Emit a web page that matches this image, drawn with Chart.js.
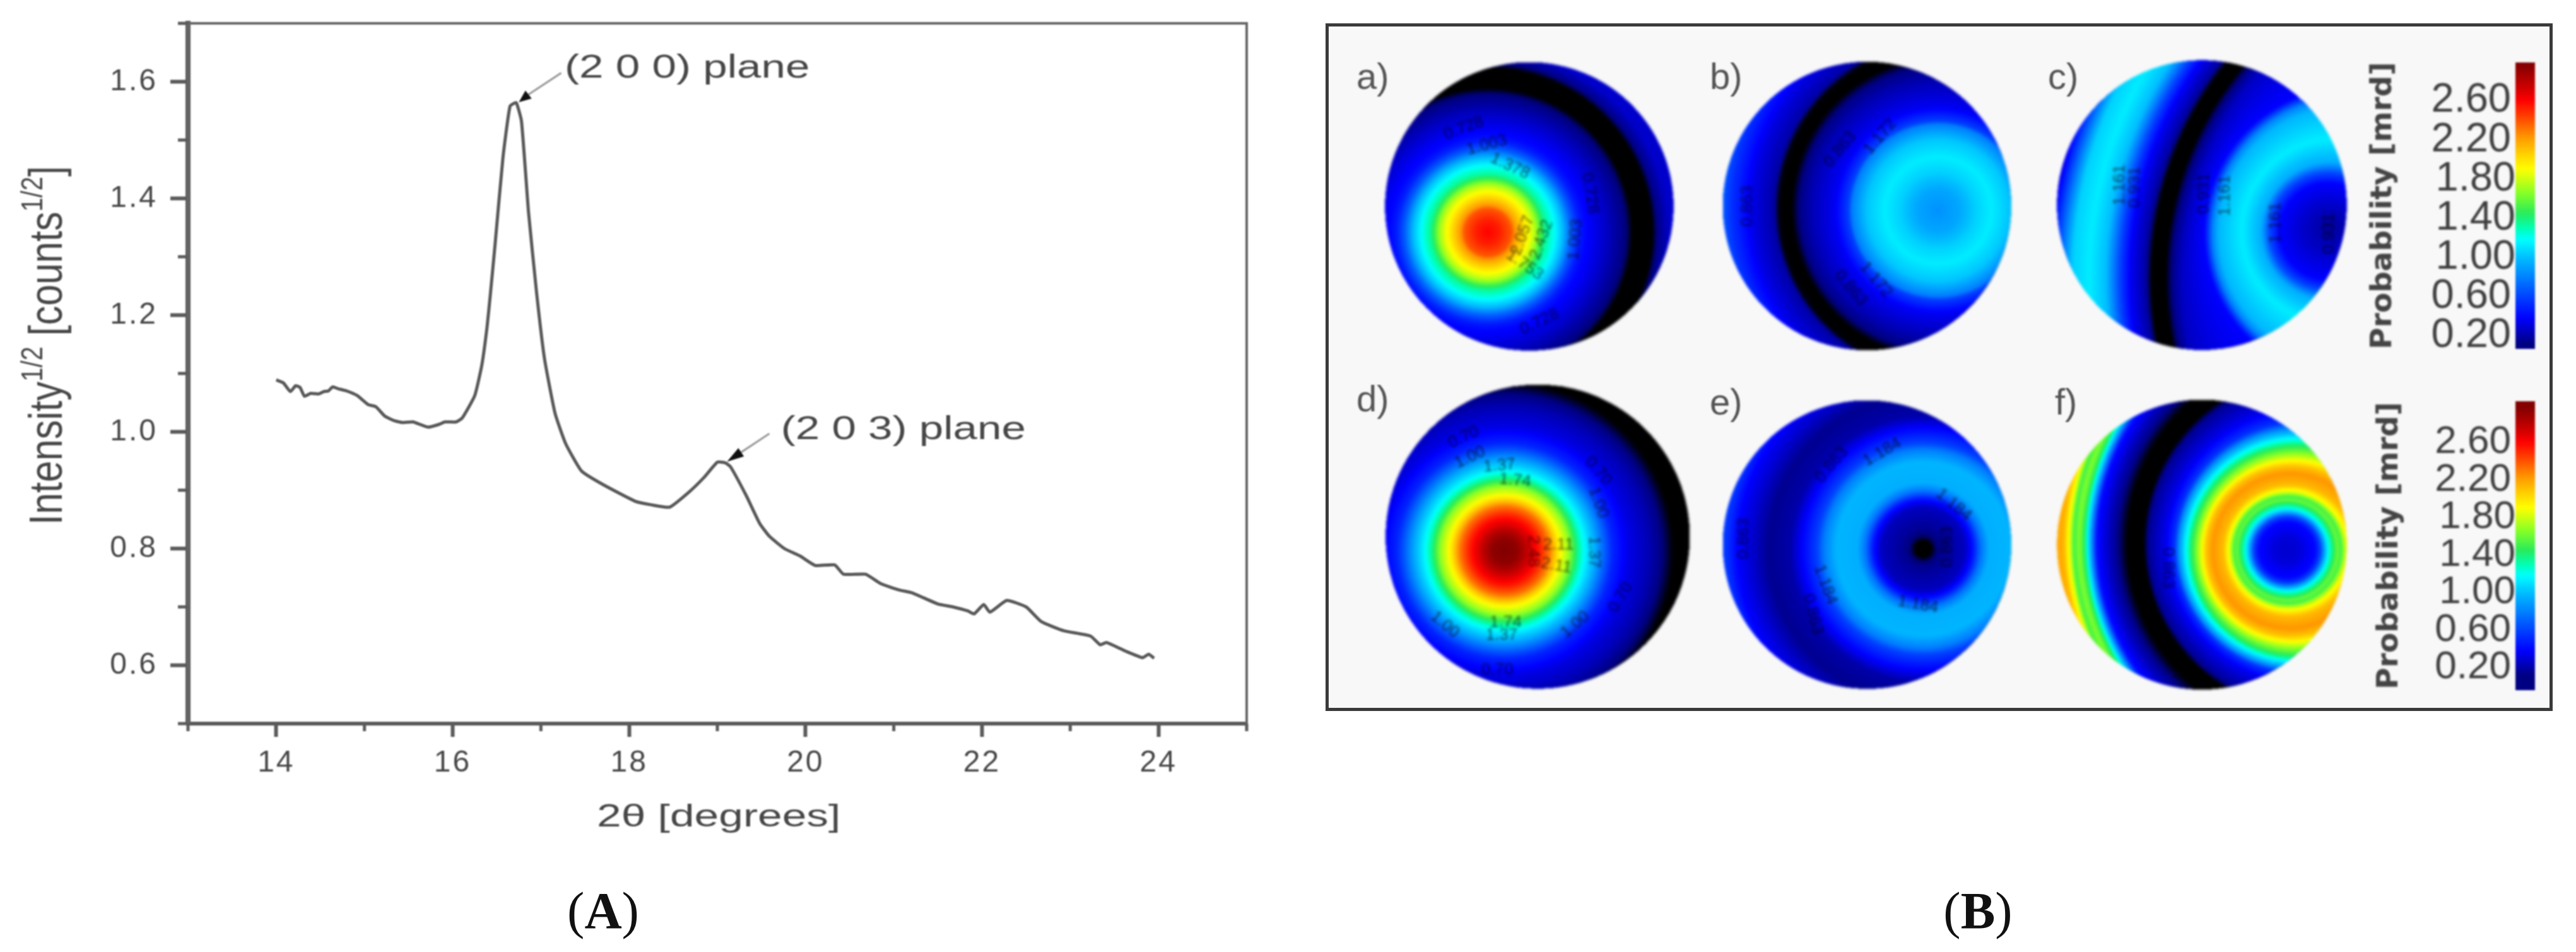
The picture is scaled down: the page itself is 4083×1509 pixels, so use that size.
<!DOCTYPE html>
<html><head><meta charset="utf-8">
<script src="https://cdn.jsdelivr.net/npm/chart.js@4"></script>
<style>
html,body{margin:0;padding:0;background:#fff;width:4083px;height:1509px;overflow:hidden;position:relative}
canvas{position:absolute;display:block}
.t{position:absolute;white-space:nowrap;line-height:1}
#frame{position:absolute;left:2101px;top:37px;width:1935px;height:1080px;border:5px solid #3a3a3a;background:#f8f8f8}
.cap{font-family:"Liberation Serif";font-size:82px;color:#111;filter:blur(.6px)}
.lab{font-family:"Liberation Sans";font-size:58px;color:#555;filter:blur(1.2px)}
</style></head><body>
<div id="frame"></div>
<script>
// ---------- Panel A: diffractogram ----------
const thetaValues=[14.0,14.08,14.16,14.22,14.27,14.32,14.39,14.48,14.54,14.59,14.64,14.70,14.80,14.92,15.04,15.13,15.23,15.34,15.43,15.55,15.72,15.85,15.91,16.04,16.11,16.25,16.33,16.39,16.43,16.48,16.57,16.65,16.72,16.78,16.86,16.95,17.04,17.16,17.28,17.46,17.70,18.07,18.25,18.46,18.68,18.85,19.0,19.09,19.15,19.33,19.48,19.59,19.76,19.94,20.11,20.33,20.43,20.68,20.85,21.06,21.21,21.5,21.67,21.84,21.91,22.02,22.09,22.28,22.5,22.67,22.93,23.23,23.34,23.41,23.63,23.82,23.89,23.95];
const intensityValues=[1.089,1.084,1.069,1.079,1.076,1.061,1.066,1.065,1.069,1.070,1.077,1.074,1.070,1.062,1.047,1.043,1.027,1.019,1.016,1.017,1.008,1.013,1.017,1.017,1.024,1.062,1.114,1.18,1.24,1.32,1.47,1.558,1.564,1.532,1.376,1.24,1.126,1.032,0.98,0.933,0.91,0.881,0.875,0.871,0.897,0.922,0.948,0.947,0.94,0.89,0.843,0.821,0.80,0.787,0.771,0.772,0.756,0.756,0.74,0.729,0.724,0.705,0.70,0.693,0.688,0.704,0.691,0.711,0.70,0.675,0.659,0.65,0.635,0.639,0.624,0.613,0.619,0.612];
const xMajorTicks=[14,16,18,20,22,24];
const xMinorTicks=[13,15,17,19,21,23,25];
const yMajorTicks=[0.6,0.8,1.0,1.2,1.4,1.6];
const yMinorTicks=[0.5,0.7,0.9,1.1,1.3,1.5,1.7];
const annotationLabels=["(2 0 0) plane","(2 0 3) plane"];
const annotationLabelAt=[[17.27,1.623],[19.72,1.003]];
const annotationLineFrom=[[17.23,1.615],[19.59,0.997]];
const annotationHeadTo=[[16.75,1.565],[19.11,0.949]];
const annotationHeadFrom=[[16.86,1.578],[19.27,0.965]];

// ---------- Panel B: colour scale ----------
const jetValues=[0,0.03,0.12,0.38,0.58,0.8,1.0,1.18,1.3,1.45,1.65,1.9,2.08,2.23,2.4,2.6,2.75,2.97];
const jetRed  =[0,0,0,0,0,0,0,0,0,40,130,255,255,255,255,255,200,130];
const jetGreen=[0,0,0,0,60,130,190,255,255,235,255,255,200,150,80,0,0,0];
const jetBlue =[0,0,130,255,255,255,255,255,180,90,40,0,0,0,0,0,0,0];
const barTicks=[0.2,0.6,1.0,1.4,1.8,2.2,2.6];

// Pole figures: contour circles, outermost first: [centre x, centre y, radius, probability]
const poleA=[[535,865,1100,0.3],[535,865,865,0.27],[535,865,805,0.12],[535,865,780,0.02],[535,865,690,0.02],[535,865,665,0.1],[535,865,565,0.26],[535,865,465,0.4],[535,865,435,0.48],[535,865,395,0.7],[535,865,355,1.0],[535,865,315,1.2],[535,865,275,1.35],[535,865,255,1.5],[535,865,225,1.75],[535,865,195,1.9],[535,865,165,2.05],[535,865,130,2.23],[535,865,115,2.38],[535,865,60,2.52],[535,865,0,2.6]];
const poleB=[[1110,750,1150,0.7],[1110,750,1045,0.65],[1110,750,1010,0.55],[1110,750,910,0.33],[1110,750,810,0.2],[1110,750,785,0.04],[1110,750,725,0.02],[1105,752,680,0.12],[1090,755,610,0.22],[1085,760,490,0.36],[1085,760,425,0.6],[1085,760,412,0.78],[1085,760,340,1.02],[1085,760,255,1.13],[1085,760,180,1.05],[1085,760,100,0.92],[1085,760,0,0.85]];
const poleC=[[2146,1080,2300,0.2],[2146,1080,2130,0.3],[2146,1080,2081,0.62],[2146,1080,2012,1.05],[2146,1080,1934,1.13],[2146,1080,1855,1.0],[2146,1080,1787,0.6],[2146,1080,1738,0.36],[2146,1080,1670,0.2],[2146,1080,1642,0.05],[2146,1080,1630,0.02],[2146,1080,1572,0.02],[2146,1080,1555,0.08],[2146,1080,1495,0.25],[1460,870,700,0.38],[1450,870,650,0.8],[1430,870,600,0.98],[1380,860,440,1.13],[1360,860,330,0.95],[1350,860,280,0.62],[1350,860,230,0.38],[1350,850,120,0.27],[1360,840,40,0.2],[1360,840,0,0.19]];
const poleD=[[615,820,1100,0.02],[615,820,810,0.02],[615,820,760,0.1],[615,820,690,0.22],[615,820,590,0.33],[615,820,515,0.5],[615,820,475,0.7],[615,820,425,0.97],[615,820,385,1.15],[615,820,355,1.32],[615,820,330,1.5],[615,820,305,1.7],[615,820,275,1.85],[615,820,245,2.05],[615,820,215,2.3],[615,820,175,2.5],[615,820,130,2.68],[615,820,100,2.8],[615,820,60,2.93],[615,820,0,2.97]];
const poleE=[[1015,750,1000,0.6],[1015,750,935,0.55],[1015,750,885,0.38],[1015,750,815,0.28],[1015,750,735,0.15],[1015,750,635,0.2],[1015,750,565,0.42],[1015,750,505,0.6],[1015,750,475,0.78],[1015,750,415,0.97],[1015,750,315,0.95],[1015,750,275,0.75],[1015,750,235,0.42],[1015,750,200,0.25],[1015,750,100,0.16],[1015,750,60,0.1],[1015,750,38,0.02],[1015,750,0,0.0]];
const poleF=[[1330,720,1290,2.2],[1330,720,1240,2.15],[1330,720,1210,1.85],[1330,720,1190,1.5],[1330,720,1165,1.65],[1330,720,1140,1.45],[1330,720,1115,1.0],[1325,720,1075,0.42],[1320,720,1020,0.27],[1300,720,940,0.1],[1290,720,890,0.02],[1285,720,815,0.02],[1270,725,770,0.17],[1240,735,660,0.35],[1220,745,600,0.55],[1210,750,570,0.85],[1205,755,535,1.15],[1200,760,500,1.45],[1195,760,475,1.6],[1185,760,440,1.85],[1175,760,405,2.1],[1170,760,370,2.23],[1165,758,315,2.12],[1160,756,280,1.85],[1158,755,255,1.5],[1156,755,240,1.6],[1155,755,225,1.45],[1155,755,205,1.28],[1155,755,185,1.0],[1155,755,160,0.6],[1155,755,135,0.4],[1155,755,60,0.3],[1155,755,0,0.28]];
// disc outlines: [centre x, centre y, radius]
const discA=[732,742,685],discB=[748,740,685],discC=[750,735,688],discD=[772,752,722],discE=[748,730,685],discF=[750,730,688];
// contour labels: [text, x, y, rotation in degrees]
const labelsA=[["0.728",420,370,-20],["1.003",530,450,-15],["1.378",640,550,25],["0.728",1020,680,80],["1.003",950,900,-85],["2.057",700,880,-70],["2.432",790,900,-70],["1.753",710,1020,35],["0.728",780,1290,-25]];
const labelsB=[["1.172",810,410,-50],["0.863",620,470,-50],["1.172",790,1090,50],["0.863",670,1130,50],["0.863",180,740,-90]];
const labelsC=[["1.161",360,640,-90],["0.931",430,650,-90],["0.931",760,680,-90],["1.161",860,690,-90],["1.161",1100,820,-90],["0.931",1355,870,-90]];
const labelsD=[["0.70",420,280,-25],["1.00",450,375,-25],["1.37",590,415,-5],["1.74",665,485,5],["0.70",1060,440,50],["1.00",1060,590,70],["1.37",1040,825,90],["2.11",870,790,0],["2.48",750,820,90],["2.11",860,890,10],["1.74",620,1160,0],["1.37",600,1220,0],["1.00",330,1170,40],["1.00",950,1170,-40],["0.70",1165,1040,-60],["0.70",580,1385,0]];
const labelsE=[["1.184",820,290,-30],["0.863",580,350,-50],["1.184",1160,540,40],["1.184",990,1015,10],["1.184",550,920,70],["0.863",490,1060,75],["0.863",160,700,-90],["0.863",1130,740,-90]];
const labelsF=[["0.863",590,840,90]];

// ---------- helpers ----------
const SANS='"Liberation Sans"';
const TXT='#474747';
const AXIS='#5a5a5a';
function jet(v){
  if(v<=jetValues[0])return [jetRed[0],jetGreen[0],jetBlue[0]];
  for(let i=1;i<jetValues.length;i++){
    if(v<=jetValues[i]){
      const t=(v-jetValues[i-1])/(jetValues[i]-jetValues[i-1]);
      return [jetRed,jetGreen,jetBlue].map(c=>Math.round(c[i-1]+(c[i]-c[i-1])*t));
    }
  }
  const n=jetValues.length-1;return [jetRed[n],jetGreen[n],jetBlue[n]];
}
const css=c=>`rgb(${c[0]},${c[1]},${c[2]})`;
function addCanvas(left,top,w,h,blur){
  const c=document.createElement('canvas');c.width=w;c.height=h;
  c.style.left=left+'px';c.style.top=top+'px';c.style.width=w+'px';c.style.height=h+'px';
  c.style.filter=`blur(${blur}px)`;document.body.appendChild(c);return c;
}
function stretched(ctx,str,px,py,font,sx,sy){
  ctx.save();ctx.translate(px,py);ctx.scale(sx,sy);ctx.font=font;ctx.fillStyle=TXT;
  ctx.textAlign='left';ctx.textBaseline='middle';ctx.fillText(str,0,0);ctx.restore();
}

// ---------- Chart A ----------
const panelAPlugin={
  id:'panelA',
  beforeDraw(chart){chart.ctx.letterSpacing='3px';},
  afterDraw(chart){
    const {ctx,scales:{x,y},chartArea:a}=chart;
    ctx.letterSpacing='0px';
    ctx.save();
    ctx.strokeStyle='#666';ctx.lineWidth=4;
    ctx.beginPath();ctx.moveTo(a.left,a.bottom);ctx.lineTo(a.left,a.top);ctx.lineTo(a.right,a.top);ctx.lineTo(a.right,a.bottom);ctx.stroke();
    ctx.strokeStyle=AXIS;ctx.lineWidth=5;ctx.beginPath();
    xMinorTicks.forEach(v=>{const p=x.getPixelForValue(v);ctx.moveTo(p,a.bottom);ctx.lineTo(p,a.bottom+12);});
    yMinorTicks.forEach(v=>{const p=y.getPixelForValue(v);ctx.moveTo(a.left,p);ctx.lineTo(a.left-16,p);});
    ctx.stroke();
    annotationLabels.forEach((s,i)=>{
      const lx=x.getPixelForValue(annotationLabelAt[i][0]),ly=y.getPixelForValue(annotationLabelAt[i][1]);
      stretched(ctx,s,lx,ly,`52px ${SANS}`,1.33,1);
      const fx=x.getPixelForValue(annotationLineFrom[i][0]),fy=y.getPixelForValue(annotationLineFrom[i][1]);
      const hx=x.getPixelForValue(annotationHeadFrom[i][0]),hy=y.getPixelForValue(annotationHeadFrom[i][1]);
      const tx=x.getPixelForValue(annotationHeadTo[i][0]),ty=y.getPixelForValue(annotationHeadTo[i][1]);
      ctx.strokeStyle='#999';ctx.lineWidth=3;ctx.beginPath();ctx.moveTo(fx,fy);ctx.lineTo(hx,hy);ctx.stroke();
      const dx=hx-tx,dy=hy-ty,l=Math.hypot(dx,dy)||1,nx=-dy/l*8,ny=dx/l*8;
      ctx.fillStyle='#111';ctx.beginPath();ctx.moveTo(tx,ty);ctx.lineTo(hx+nx,hy+ny);ctx.lineTo(hx-nx,hy-ny);ctx.closePath();ctx.fill();
    });
    // x title
    stretched(ctx,'2θ [degrees]',946,1296,`50px ${SANS}`,1.39,1);
    // y title with superscripts
    ctx.translate(98,832);ctx.rotate(-Math.PI/2);ctx.scale(1,1.2);
    ctx.fillStyle=TXT;ctx.textBaseline='alphabetic';ctx.textAlign='left';
    let cx=0;
    [['Intensity',61,0],['1/2',40,26],[' [counts',61,0],['1/2',40,26],[']',61,0]].forEach(seg=>{
      ctx.font=`${seg[1]}px ${SANS}`;ctx.fillText(seg[0],cx,-seg[2]);cx+=ctx.measureText(seg[0]).width;
    });
    ctx.restore();
  }
};
const axisCommon={color:TXT,font:{family:'Liberation Sans',size:48}};
new Chart(addCanvas(0,0,2050,1330,1.1),{
  type:'line',
  data:{datasets:[{label:'Intensity',data:thetaValues.map((t,i)=>({x:t,y:intensityValues[i]})),borderColor:'#585858',borderWidth:5,pointRadius:0,tension:0.15,fill:false}]},
  options:{
    responsive:false,animation:false,
    layout:{padding:{top:37,right:74,left:0,bottom:0}},
    plugins:{legend:{display:false},tooltip:{enabled:false}},
    scales:{
      x:{type:'linear',min:13,max:25,
        afterBuildTicks:s=>{s.ticks=xMajorTicks.map(v=>({value:v}));},
        afterFit:s=>{s.height=183;s.paddingLeft=0;s.paddingRight=0;},
        border:{color:AXIS,width:6},
        grid:{drawOnChartArea:false,tickLength:21,tickWidth:6,tickColor:AXIS},
        ticks:{...axisCommon,autoSkip:false,maxRotation:0,padding:13,callback:v=>String(v)}},
      y:{type:'linear',min:0.5,max:1.7,
        afterBuildTicks:s=>{s.ticks=yMajorTicks.map(v=>({value:v}));},
        afterFit:s=>{s.width=298;s.paddingTop=0;s.paddingBottom=0;},
        border:{color:AXIS,width:8},
        grid:{drawOnChartArea:false,tickLength:28,tickWidth:6,tickColor:AXIS},
        ticks:{...axisCommon,autoSkip:false,padding:20,callback:v=>Number(v).toFixed(1)}}
    }
  },
  plugins:[panelAPlugin]
});

// ---------- Pole figures ----------
const polePlugin={
  id:'pole',
  beforeDatasetsDraw(chart){
    const {ctx,scales:{x,y}}=chart,ds=chart.data.datasets[0],rings=ds.data,disc=ds.disc;
    const rx=r=>Math.abs(x.getPixelForValue(r)-x.getPixelForValue(0));
    const ry=r=>Math.abs(y.getPixelForValue(r)-y.getPixelForValue(0));
    const circle=(c1,c2,r)=>{ctx.beginPath();ctx.ellipse(x.getPixelForValue(c1),y.getPixelForValue(c2),rx(r),ry(r),0,0,Math.PI*2);};
    ctx.save();
    circle(disc[0],disc[1],disc[2]);ctx.clip();
    ctx.fillStyle=css(jet(rings[0].v));circle(rings[0].x,rings[0].y,rings[0].r);ctx.fill();
    for(let i=1;i<rings.length;i++){
      const a=rings[i-1],b=rings[i],n=Math.max(1,Math.ceil(rx(Math.abs(a.r-b.r))));
      for(let k=1;k<=n;k++){
        const t=k/n;
        ctx.fillStyle=css(jet(a.v+(b.v-a.v)*t));
        circle(a.x+(b.x-a.x)*t,a.y+(b.y-a.y)*t,a.r+(b.r-a.r)*t);ctx.fill();
      }
    }
    ctx.fillStyle='rgba(0,0,0,.6)';ctx.font=`26px ${SANS}`;ctx.textAlign='center';ctx.textBaseline='middle';
    ds.labels.forEach(l=>{
      ctx.save();ctx.translate(x.getPixelForValue(l[1]),y.getPixelForValue(l[2]));ctx.rotate(l[3]*Math.PI/180);ctx.fillText(l[0],0,0);ctx.restore();
    });
    ctx.restore();
  }
};
function poleChart(left,top,size,rings,disc,labels){
  new Chart(addCanvas(left,top,size,size,2),{
    type:'scatter',
    data:{datasets:[{data:rings.map(r=>({x:r[0],y:r[1],r:r[2],v:r[3]})),disc,labels,pointRadius:0,showLine:false}]},
    options:{responsive:false,animation:false,layout:{padding:0},
      plugins:{legend:{display:false},tooltip:{enabled:false}},
      scales:{x:{type:'linear',display:false,min:0,max:size*3},y:{type:'linear',display:false,reverse:true,min:0,max:size*3}}},
    plugins:[polePlugin]
  });
}
poleChart(2180,80,500,poleA,discA,labelsA);
poleChart(2710,80,500,poleB,discB,labelsB);
poleChart(3240,80,500,poleC,discC,labelsC);
poleChart(2180,600,510,poleD,discD,labelsD);
poleChart(2710,620,500,poleE,discE,labelsE);
poleChart(3240,620,500,poleF,discF,labelsF);

// ---------- Colour bars ----------
const barPlugin={
  id:'bar',
  beforeDatasetsDraw(chart){
    const {ctx,scales:{y},chartArea:a}=chart;
    const g=ctx.createLinearGradient(0,a.bottom,0,a.top),lo=y.min,hi=y.max;
    for(let i=0;i<=60;i++){const v=lo+(hi-lo)*i/60;g.addColorStop(i/60,css(jet(Math.max(v,0.12))));}
    ctx.fillStyle=g;ctx.fillRect(a.left,a.top,a.right-a.left,a.bottom-a.top);
    // tick labels sit against the bar, the 1.xx ones overlap it slightly as in the figure
    ctx.fillStyle='#3e3e3e';ctx.font=`${chart.options.barFont}px ${SANS}`;ctx.textAlign='right';ctx.textBaseline='middle';
    barTicks.forEach(v=>{
      const t=v.toFixed(2);ctx.fillText(t,a.left+(t[0]==='1'?0:-7),y.getPixelForValue(v));
    });
  }
};
function barChart(left,top,w,h,barLeft,barRight,barTop,barBottom,lo,hi,size){
  new Chart(addCanvas(left,top,w,h,1.4),{
    type:'scatter',
    data:{datasets:[{data:barTicks.map(v=>({x:0,y:v})),pointRadius:0,showLine:false}]},
    options:{responsive:false,animation:false,barFont:size,
      layout:{padding:{left:0,right:w-(barRight-left),top:barTop-top,bottom:top+h-barBottom}},
      plugins:{legend:{display:false},tooltip:{enabled:false}},
      scales:{
        x:{type:'linear',display:false,min:0,max:1},
        y:{type:'linear',min:lo,max:hi,
          afterBuildTicks:s=>{s.ticks=barTicks.map(v=>({value:v}));},
          afterFit:s=>{s.width=barLeft-left;s.paddingTop=0;s.paddingBottom=0;},
          border:{display:false},grid:{display:false,drawTicks:false},
          title:{display:true,text:'Probability [mrd]',color:'#444',font:{family:'DejaVu Sans',weight:'bold',size:47},padding:{top:0,bottom:0}},
          ticks:{display:false}}
      }},
    plugins:[barPlugin]
  });
}
barChart(3750,60,285,520,3987,4018,99,553,0.065,2.99,65);
barChart(3760,600,275,520,3987,4018,636,1094,-0.04,3.036,62);

// ---------- Text ----------
function text(cls,str,x,y){const d=document.createElement('div');d.className='t '+cls;d.textContent=str;d.style.left=x+'px';d.style.top=y+'px';document.body.appendChild(d);return d;}
[["a)",2150,92],["b)",2710,92],["c)",3246,92],["d)",2150,603],["e)",2710,608],["f)",3257,608]].forEach(r=>text('lab',r[0],r[1],r[2]));
const capA=text('cap','',0,1403),capB=text('cap','',0,1403);
capA.innerHTML='(<b>A</b>)';capB.innerHTML='(<b>B</b>)';
capA.style.left='0';capA.style.width='1912px';capA.style.textAlign='center';
capB.style.left='0';capB.style.width='6270px';capB.style.textAlign='center';
</script>
</body></html>
